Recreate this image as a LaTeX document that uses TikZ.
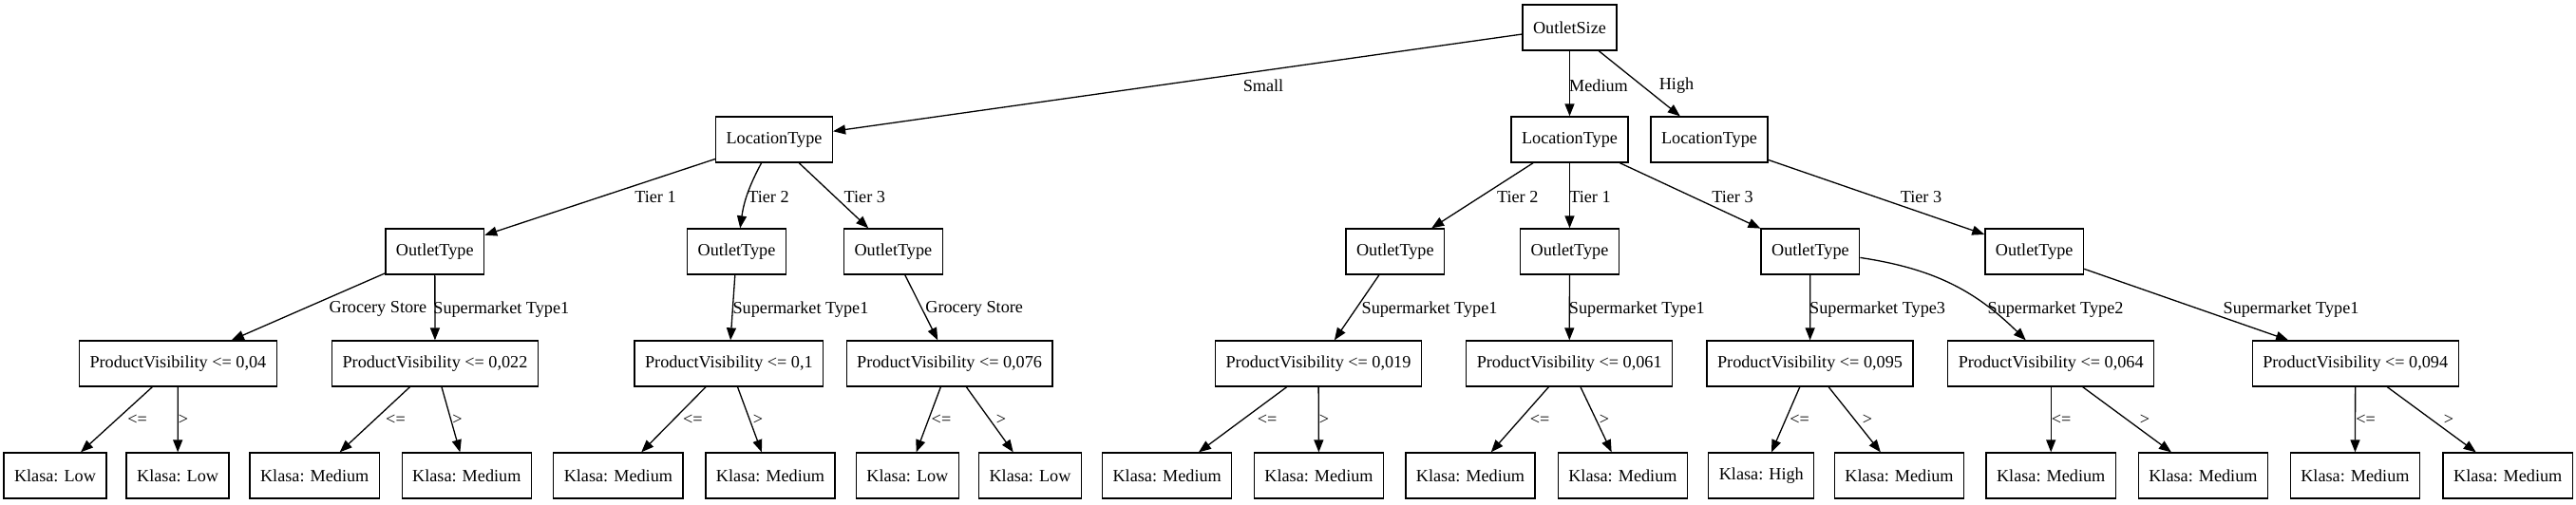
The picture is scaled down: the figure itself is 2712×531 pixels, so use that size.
\documentclass[tikz,border=0pt]{standalone}
\usepackage{fontspec}
\setmainfont{Liberation Serif}
\usetikzlibrary{arrows.meta}
\begin{document}
\begin{tikzpicture}[x=1pt,y=-1pt,
  box/.style={draw, line width=1.3pt, minimum height=48pt, inner xsep=11pt, inner ysep=0pt, font=\fontsize{18.2}{20}\selectfont},
  edge/.style={line width=1.3pt, -{Triangle[length=13pt,width=10pt]}},
  lbl/.style={inner sep=0pt, font=\fontsize{18.2}{20}\selectfont},
  glbl/.style={lbl}]
\useasboundingbox (0,0) rectangle (2712,531);
% level 0
\node[box] (root) at (1652.5,29) {OutletSize};
% level 1
\node[box] (lt1) at (815,147) {LocationType};
\node[box] (lt2) at (1652.5,147) {LocationType};
\node[box] (lt3) at (1799.5,147) {LocationType};
% level 2
\node[box] (ot1) at (457.8,265) {OutletType};
\node[box] (ot2) at (775.5,265) {OutletType};
\node[box] (ot3) at (940.4,265) {OutletType};
\node[box] (ot4) at (1468.8,265) {OutletType};
\node[box] (ot5) at (1652.5,265) {OutletType};
\node[box] (ot6) at (1905.9,265) {OutletType};
\node[box] (ot7) at (2141.7,265) {OutletType};
% level 3
\node[box] (pv1) at (187.4,383) {ProductVisibility <= 0,04};
\node[box] (pv2) at (458,383) {ProductVisibility <= 0,022};
\node[box] (pv3) at (767.4,383) {ProductVisibility <= 0,1};
\node[box] (pv4) at (999.6,383) {ProductVisibility <= 0,076};
\node[box] (pv5) at (1388,383) {ProductVisibility <= 0,019};
\node[box] (pv6) at (1652.2,383) {ProductVisibility <= 0,061};
\node[box] (pv7) at (1905.5,383) {ProductVisibility <= 0,095};
\node[box] (pv8) at (2159.2,383) {ProductVisibility <= 0,064};
\node[box] (pv9) at (2479.7,383) {ProductVisibility <= 0,094};
% level 4
\node[box] (k1) at (58,501) {Klasa: Low};
\node[box] (k2) at (187.1,501) {Klasa: Low};
\node[box] (k3) at (331.2,501) {Klasa: Medium};
\node[box] (k4) at (491.3,501) {Klasa: Medium};
\node[box] (k5) at (650.9,501) {Klasa: Medium};
\node[box] (k6) at (811,501) {Klasa: Medium};
\node[box] (k7) at (955.4,501) {Klasa: Low};
\node[box] (k8) at (1084.5,501) {Klasa: Low};
\node[box] (k9) at (1228.7,501) {Klasa: Medium};
\node[box] (k10) at (1388.5,501) {Klasa: Medium};
\node[box] (k11) at (1548,501) {Klasa: Medium};
\node[box] (k12) at (1708.4,501) {Klasa: Medium};
\node[box] (k13) at (1854.3,501) {Klasa: High};
\node[box] (k14) at (1999.5,501) {Klasa: Medium};
\node[box] (k15) at (2159.2,501) {Klasa: Medium};
\node[box] (k16) at (2319.4,501) {Klasa: Medium};
\node[box] (k17) at (2479.4,501) {Klasa: Medium};
\node[box] (k18) at (2640.2,501) {Klasa: Medium};
% edges level 0-1
\draw[edge] (root) -- (lt1);
\draw[edge] (root) -- (lt2);
\draw[edge] (root) -- (lt3);
\node[lbl] (lSmall) at (1330,90) {Small};
\node[lbl] (lMedium) at (1683,90) {Medium};
\node[lbl] (lHigh) at (1765,90) {High};
% edges level 1-2
\draw[edge] (lt1) -- (ot1);
\draw[edge] (lt1) to[bend right=10] (ot2);
\draw[edge] (lt1) -- (ot3);
\draw[edge] (lt2) -- (ot4);
\draw[edge] (lt2) -- (ot5);
\draw[edge] (lt2) -- (ot6);
\draw[edge] (lt3) -- (ot7);
\node[lbl] (lT1a) at (690,208) {Tier 1};
\node[lbl] (lT2a) at (809,208) {Tier 2};
\node[lbl] (lT3a) at (910.3,208) {Tier 3};
\node[lbl] (lT2b) at (1597.7,208) {Tier 2};
\node[lbl] (lT1b) at (1674,208) {Tier 1};
\node[lbl] (lT3b) at (1824,208) {Tier 3};
\node[lbl] (lT3c) at (2022.5,208) {Tier 3};
% edges level 2-3
\draw[edge] (ot1) -- (pv1);
\draw[edge] (ot1) -- (pv2);
\draw[edge] (ot2) -- (pv3);
\draw[edge] (ot3) -- (pv4);
\draw[edge] (ot4) -- (pv5);
\draw[edge] (ot5) -- (pv6);
\draw[edge] (ot6) -- (pv7);
\draw[edge] (ot6) to[bend left=18] (pv8);
\draw[edge] (ot7) -- (pv9);
\node[lbl] (lGS1) at (398,325.7) {Grocery Store};
\node[lbl] (lS1a) at (527.8,325.7) {Supermarket Type1};
\node[lbl] (lS1b) at (843,325.7) {Supermarket Type1};
\node[lbl] (lGS2) at (1025.7,325.7) {Grocery Store};
\node[lbl] (lS1c) at (1505,325.7) {Supermarket Type1};
\node[lbl] (lS1d) at (1723.3,325.7) {Supermarket Type1};
\node[lbl] (lS3) at (1976.6,325.7) {Supermarket Type3};
\node[lbl] (lS2) at (2164,325.7) {Supermarket Type2};
\node[lbl] (lS1e) at (2412,325.7) {Supermarket Type1};
% edges level 3-4
\draw[edge] (pv1) -- (k1);
\draw[edge] (pv1) -- (k2);
\draw[edge] (pv2) -- (k3);
\draw[edge] (pv2) -- (k4);
\draw[edge] (pv3) -- (k5);
\draw[edge] (pv3) -- (k6);
\draw[edge] (pv4) -- (k7);
\draw[edge] (pv4) -- (k8);
\draw[edge] (pv5) -- (k9);
\draw[edge] (pv5) -- (k10);
\draw[edge] (pv6) -- (k11);
\draw[edge] (pv6) -- (k12);
\draw[edge] (pv7) -- (k13);
\draw[edge] (pv7) -- (k14);
\draw[edge] (pv8) -- (k15);
\draw[edge] (pv8) -- (k16);
\draw[edge] (pv9) -- (k17);
\draw[edge] (pv9) -- (k18);
\node[glbl] (le1) at (144.6,442.5) {<=};
\node[glbl] (lg1) at (193,442.5) {>};
\node[glbl] (le2) at (416.5,442.5) {<=};
\node[glbl] (lg2) at (481.5,442.5) {>};
\node[glbl] (le3) at (729.3,442.5) {<=};
\node[glbl] (lg3) at (798,442.5) {>};
\node[glbl] (le4) at (991,442.5) {<=};
\node[glbl] (lg4) at (1054,442.5) {>};
\node[glbl] (le5) at (1334,442.5) {<=};
\node[glbl] (lg5) at (1394,442.5) {>};
\node[glbl] (le6) at (1621,442.5) {<=};
\node[glbl] (lg6) at (1689,442.5) {>};
\node[glbl] (le7) at (1894.5,442.5) {<=};
\node[glbl] (lg7) at (1966,442.5) {>};
\node[glbl] (le8) at (2170,442.5) {<=};
\node[glbl] (lg8) at (2258,442.5) {>};
\node[glbl] (le9) at (2490.7,442.5) {<=};
\node[glbl] (lg9) at (2578,442.5) {>};
\end{tikzpicture}
\end{document}
